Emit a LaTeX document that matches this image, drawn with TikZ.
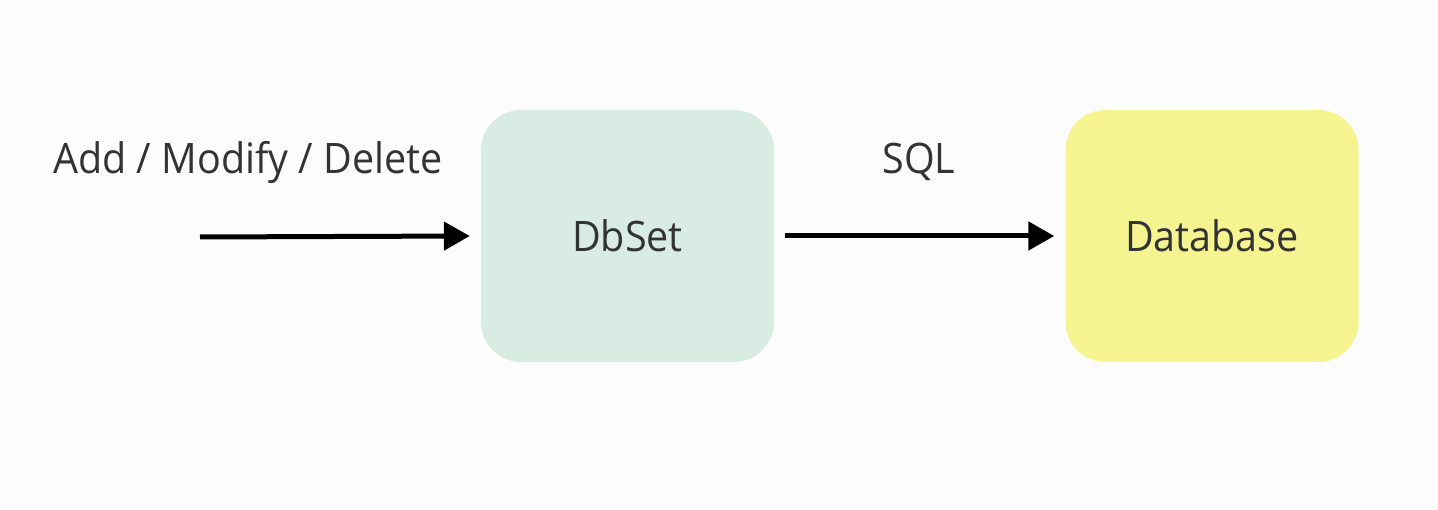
\documentclass[tikz,border=0pt]{standalone}
\usepackage{fontspec}
\setmainfont{Open Sans}[FakeStretch=0.94]
\usetikzlibrary{arrows.meta}
\definecolor{bgc}{HTML}{FCFCFC}
\definecolor{dbsetc}{HTML}{D9ECE3}
\definecolor{dbc}{HTML}{F5F490}
\definecolor{txtc}{HTML}{333333}
\tikzset{
  x=1pt, y=-1pt,
  box/.style={rounded corners=40pt, minimum width=293pt, minimum height=252pt, inner sep=0pt, text=txtc, font=\fontsize{42}{50}\selectfont},
  lbl/.style={text=txtc, font=\fontsize{42}{50}\selectfont, inner sep=0pt, anchor=base},
  arr/.style={line width=5pt, -{Triangle[length=26pt,width=28pt]}}
}
\begin{document}
\begin{tikzpicture}
\fill[bgc] (0,0) rectangle (1438,510);
\useasboundingbox (0,0) rectangle (1438,510);
\node[box, fill=dbsetc] (dbset) at (627.5,236) {DbSet};
\node[box, fill=dbc] (db) at (1212,236) {Database};
\node[lbl] (ops) at (248,174) {Add / Modify / Delete};
\node[lbl] (sql) at (919,174) {SQL};
\coordinate (start) at (200,237);
\draw[arr] (start) -- ([xshift=-11pt]dbset.west);
\draw[arr] ([xshift=11pt]dbset.east) -- ([xshift=-11pt]db.west);
\end{tikzpicture}
\end{document}
